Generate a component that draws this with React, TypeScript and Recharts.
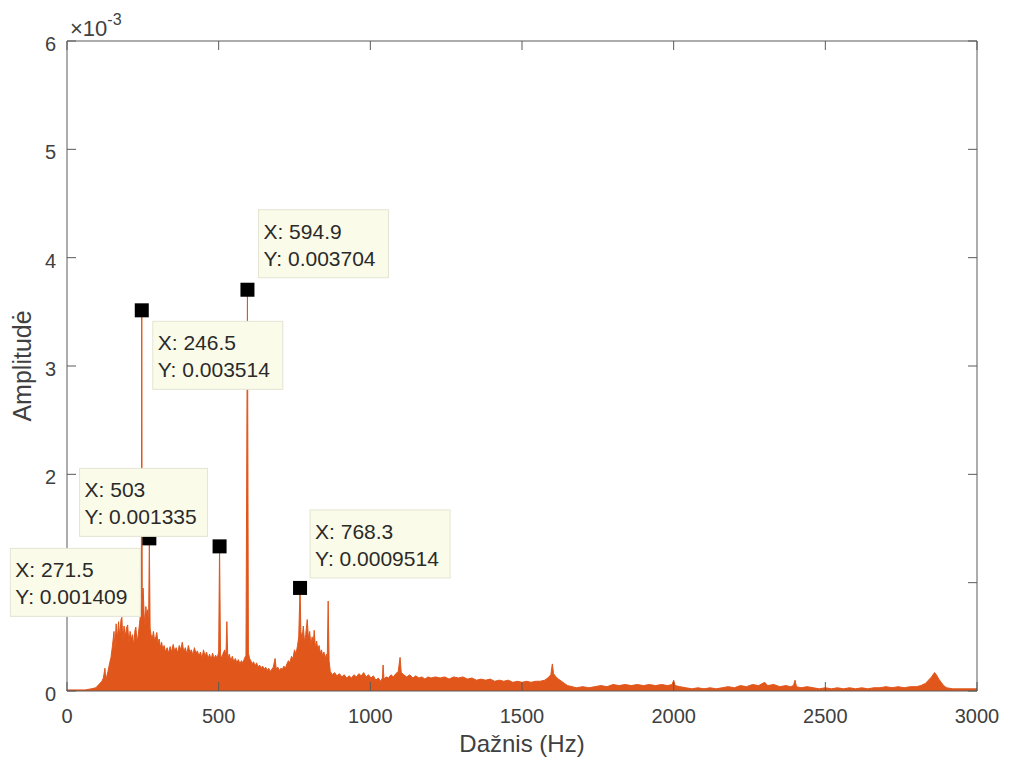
import React from 'react';
import { ComposedChart, Area, Scatter, XAxis, YAxis, Label } from 'recharts';

// Spectrum (frequency in Hz, amplitude in units of 1e-3)
const freqHz = [
  0, 20, 40, 60, 80, 95, 105, 115, 120, 125, 128, 135, 140, 145, 150, 155, 158, 162, 166, 170,
  174, 178, 181, 184, 188, 192, 196, 200, 204, 208, 212, 216, 220, 224, 227, 231, 235, 239, 242, 245,
  246.5, 248, 251, 254, 257, 260, 263, 266, 269, 271.5, 274, 277, 281, 285, 289, 293, 296, 300, 304, 308,
  312, 316, 320, 325, 330, 335, 340, 345, 350, 355, 360, 365, 370, 375, 380, 385, 390, 395, 400, 405,
  410, 415, 420, 425, 430, 435, 440, 445, 450, 455, 460, 465, 470, 475, 480, 485, 490, 495, 500, 503,
  506, 510, 515, 520, 524, 527, 530, 535, 540, 545, 550, 555, 560, 565, 570, 575, 580, 585, 590, 594.9,
  598, 602, 606, 610, 615, 620, 625, 630, 635, 640, 645, 650, 655, 660, 665, 670, 675, 680, 686, 690,
  695, 700, 705, 710, 715, 720, 725, 730, 735, 740, 745, 750, 755, 760, 764, 768.3, 771, 775, 779, 783,
  787, 792, 796, 800, 804, 808, 812, 815, 819, 823, 827, 831, 835, 839, 843, 847, 851, 855, 858, 861,
  864, 868, 875, 882, 890, 898, 906, 914, 922, 930, 938, 946, 954, 962, 970, 978, 986, 994, 1002, 1010,
  1018, 1026, 1034, 1040, 1042, 1045, 1052, 1060, 1068, 1076, 1084, 1092, 1098, 1102, 1110, 1120, 1130, 1140, 1150, 1160,
  1170, 1180, 1190, 1200, 1215, 1230, 1245, 1260, 1275, 1290, 1305, 1320, 1335, 1350, 1365, 1380, 1395, 1410, 1425, 1440,
  1455, 1470, 1485, 1500, 1515, 1530, 1545, 1560, 1575, 1585, 1595, 1600, 1604, 1612, 1620, 1630, 1640, 1650, 1665, 1680,
  1700, 1720, 1740, 1760, 1780, 1800, 1820, 1840, 1860, 1880, 1900, 1920, 1940, 1960, 1980, 1995, 2000, 2005, 2020, 2040,
  2060, 2080, 2100, 2120, 2140, 2160, 2180, 2200, 2220, 2240, 2260, 2280, 2300, 2310, 2330, 2350, 2370, 2385, 2395, 2400,
  2405, 2420, 2440, 2460, 2480, 2500, 2520, 2540, 2560, 2580, 2600, 2620, 2640, 2660, 2680, 2700, 2720, 2740, 2760, 2780,
  2800, 2815, 2830, 2840, 2850, 2860, 2866, 2874, 2882, 2890, 2900, 2920, 2940, 2960, 2980, 3000,
];
const ampMilli = [
  0.01, 0.01, 0.01, 0.01, 0.02, 0.03, 0.06, 0.09, 0.12, 0.21, 0.1, 0.18, 0.25, 0.31, 0.42, 0.55, 0.38, 0.62, 0.48, 0.64,
  0.5, 0.66, 0.68, 0.45, 0.6, 0.5, 0.58, 0.61, 0.44, 0.55, 0.48, 0.52, 0.42, 0.56, 0.59, 0.45, 0.52, 0.62, 0.7, 0.85,
  3.514, 0.87, 0.95, 0.72, 0.6, 0.78, 0.68, 0.75, 0.6, 1.409, 0.58, 0.52, 0.48, 0.55, 0.46, 0.5, 0.54, 0.44, 0.48, 0.4,
  0.45, 0.38, 0.42, 0.36, 0.4, 0.35, 0.41, 0.36, 0.43, 0.37, 0.4, 0.35, 0.42, 0.38, 0.45, 0.36, 0.4, 0.34, 0.42, 0.36,
  0.38, 0.33, 0.4, 0.35, 0.37, 0.32, 0.36, 0.3, 0.38, 0.32, 0.36, 0.3, 0.34, 0.29, 0.35, 0.3, 0.33, 0.3, 0.36, 1.335,
  0.34, 0.3, 0.35, 0.38, 0.32, 0.64, 0.3, 0.34, 0.28, 0.32, 0.27, 0.3, 0.26, 0.29, 0.25, 0.28, 0.26, 0.3, 0.33, 3.704,
  0.35, 0.3, 0.28, 0.25, 0.27, 0.23, 0.26, 0.22, 0.24, 0.21, 0.23, 0.2, 0.22, 0.19, 0.21, 0.18, 0.2, 0.22, 0.3, 0.2,
  0.22, 0.19, 0.21, 0.2, 0.23, 0.21, 0.25, 0.28, 0.26, 0.32, 0.3, 0.38, 0.34, 0.42, 0.5, 0.9514, 0.55, 0.48, 0.6, 0.45,
  0.52, 0.66, 0.48, 0.55, 0.42, 0.5, 0.44, 0.56, 0.4, 0.46, 0.38, 0.42, 0.35, 0.38, 0.32, 0.36, 0.3, 0.34, 0.3, 0.83,
  0.28, 0.18, 0.15, 0.17, 0.14, 0.16, 0.13, 0.15, 0.12, 0.14, 0.12, 0.15, 0.13, 0.16, 0.14, 0.17, 0.13, 0.15, 0.12, 0.14,
  0.1, 0.12, 0.09, 0.12, 0.24, 0.11, 0.13, 0.12, 0.15, 0.13, 0.16, 0.18, 0.31, 0.17, 0.15, 0.13, 0.15, 0.12, 0.14, 0.12,
  0.13, 0.11, 0.13, 0.12, 0.13, 0.12, 0.13, 0.11, 0.13, 0.12, 0.13, 0.11, 0.12, 0.1, 0.11, 0.1, 0.11, 0.09, 0.1, 0.09,
  0.1, 0.08, 0.09, 0.08, 0.09, 0.08, 0.09, 0.09, 0.1, 0.12, 0.15, 0.25, 0.16, 0.13, 0.11, 0.09, 0.07, 0.05, 0.04, 0.03,
  0.04, 0.03, 0.04, 0.05, 0.04, 0.06, 0.05, 0.06, 0.05, 0.06, 0.05, 0.06, 0.05, 0.06, 0.05, 0.06, 0.1, 0.05, 0.04, 0.03,
  0.02, 0.03, 0.02, 0.03, 0.02, 0.03, 0.04, 0.03, 0.05, 0.04, 0.06, 0.05, 0.08, 0.05, 0.06, 0.04, 0.05, 0.04, 0.05, 0.1,
  0.04, 0.03, 0.04, 0.03, 0.02, 0.03, 0.02, 0.03, 0.02, 0.03, 0.02, 0.03, 0.02, 0.03, 0.03, 0.04, 0.03, 0.04, 0.03, 0.04,
  0.04, 0.05, 0.07, 0.1, 0.13, 0.17, 0.15, 0.11, 0.08, 0.05, 0.03, 0.02, 0.02, 0.02, 0.02, 0.02,
];

// Data tips
const tipFreq = [246.5, 271.5, 503, 594.9, 768.3];
const tipAmp = [0.003514, 0.001409, 0.001335, 0.003704, 0.0009514];

// Axis ticks
const xTicks = [0, 500, 1000, 1500, 2000, 2500, 3000];
const yTicks = [0, 0.001, 0.002, 0.003, 0.004, 0.005, 0.006];
const yTickLabels = ['0', '1', '2', '3', '4', '5', '6'];

// Styling for data tip boxes (offset from marker, width)
const tipBoxStyle = [
  { dx: 11, dy: 11, w: 130 },
  { dx: -139, dy: 10, w: 130 },
  { dx: -140, dy: -78, w: 128 },
  { dx: 11, dy: -80, w: 130 },
  { dx: 10, dy: -78, w: 140 },
];

const spectrum = freqHz.map((f, i) => ({ f, a: ampMilli[i] / 1000 }));
const tips = tipFreq.map((f, i) => ({ f, a: tipAmp[i], idx: i }));

const AX = '#5a5a5a';
const TXT = '#404040';
const FONT = '"Liberation Sans", Arial, sans-serif';
const ORANGE = '#E0561B';

const BottomTick = (p: any) => {
  const { x, y, payload } = p;
  return (
    <g>
      <line x1={x} y1={y} x2={x} y2={y - 9} stroke={AX} strokeWidth={1} />
      <text x={x} y={y + 32} textAnchor="middle" fill={TXT} style={{ fontSize: 20, fontFamily: FONT }}>
        {payload.value}
      </text>
    </g>
  );
};
const TopTick = (p: any) => {
  const { x, y } = p;
  return <line x1={x} y1={y} x2={x} y2={y + 9} stroke={AX} strokeWidth={1} />;
};
const LeftTick = (p: any) => {
  const { x, y, index } = p;
  return (
    <g>
      <line x1={x} y1={y} x2={x + 9} y2={y} stroke={AX} strokeWidth={1} />
      <text x={x - 11} y={y + 10} textAnchor="end" fill={TXT} style={{ fontSize: 20, fontFamily: FONT }}>
        {yTickLabels[index] ?? ''}
      </text>
    </g>
  );
};
const RightTick = (p: any) => {
  const { x, y } = p;
  return <line x1={x} y1={y} x2={x - 9} y2={y} stroke={AX} strokeWidth={1} />;
};

const TipMarker = (p: any) => (
  <rect x={p.cx - 7} y={p.cy - 7} width={14} height={14} fill="#000" />
);
const TipBox = (p: any) => {
  const d = p.payload ?? p;
  const s = tipBoxStyle[d.idx];
  const x0 = p.cx + s.dx;
  const y0 = p.cy + s.dy;
  return (
    <g>
      <rect x={x0} y={y0} width={s.w} height={68} fill="#FBFBE9" stroke="#E4E4D4" strokeWidth={1} />
      <text x={x0 + 5} y={y0 + 29} fill="#2a2a2a" style={{ fontSize: 21, fontFamily: FONT }}>{`X: ${d.f}`}</text>
      <text x={x0 + 5} y={y0 + 56} fill="#2a2a2a" style={{ fontSize: 21, fontFamily: FONT }}>{`Y: ${d.a}`}</text>
    </g>
  );
};

export default function App() {
  return (
    <ComposedChart
      width={1000}
      height={750}
      data={spectrum}
      margin={{ top: 23, right: 11, bottom: 37, left: 9 }}
      style={{ background: '#fff' }}
    >
      <XAxis
        xAxisId="b"
        dataKey="f"
        type="number"
        domain={[0, 3000]}
        ticks={xTicks}
        height={30}
        tickSize={0}
        tickMargin={0}
        tickLine={false}
        tick={BottomTick}
        axisLine={{ stroke: AX, strokeWidth: 1 }}
        interval={0}
      >
        <Label
          content={(lp: any) => {
            const vb = lp.viewBox;
            return (
              <text x={vb.x + vb.width / 2} y={vb.y + 61} textAnchor="middle" fill={TXT} style={{ fontSize: 24, fontFamily: FONT }}>
                Dažnis (Hz)
              </text>
            );
          }}
        />
      </XAxis>
      <XAxis
        xAxisId="t"
        orientation="top"
        dataKey="f"
        type="number"
        domain={[0, 3000]}
        ticks={xTicks}
        height={10}
        tickSize={0}
        tickMargin={0}
        tickLine={false}
        tick={TopTick}
        axisLine={{ stroke: AX, strokeWidth: 1 }}
        interval={0}
      >
        <Label
          content={(lp: any) => {
            const vb = lp.viewBox;
            return (
              <text x={vb.x + 3} y={vb.y + 5} fill={TXT} style={{ fontSize: 22, fontFamily: FONT }}>
                ×10
                <tspan dy={-11} style={{ fontSize: 16 }}>-3</tspan>
              </text>
            );
          }}
        />
      </XAxis>
      <YAxis
        yAxisId="l"
        dataKey="a"
        type="number"
        domain={[0, 0.006]}
        ticks={yTicks}
        width={50}
        tickSize={0}
        tickMargin={0}
        tickLine={false}
        tick={LeftTick}
        axisLine={{ stroke: AX, strokeWidth: 1 }}
        interval={0}
      >
        <Label
          content={(lp: any) => {
            const vb = lp.viewBox;
            const cx = vb.x + 14;
            const cy = vb.y + vb.height / 2;
            return (
              <text
                x={cx}
                y={cy}
                transform={`rotate(-90 ${cx} ${cy})`}
                textAnchor="middle"
                fill={TXT}
                style={{ fontSize: 25, fontFamily: FONT }}
              >
                Amplitudė
              </text>
            );
          }}
        />
      </YAxis>
      <YAxis
        yAxisId="r"
        orientation="right"
        dataKey="a"
        type="number"
        domain={[0, 0.006]}
        ticks={yTicks}
        width={20}
        tickSize={0}
        tickMargin={0}
        tickLine={false}
        tick={RightTick}
        axisLine={{ stroke: AX, strokeWidth: 1 }}
        interval={0}
      />
      <Area
        xAxisId="b"
        yAxisId="l"
        dataKey="a"
        type="linear"
        stroke={ORANGE}
        strokeWidth={1}
        fill={ORANGE}
        fillOpacity={1}
        dot={false}
        activeDot={false}
        isAnimationActive={false}
      />
      <Scatter
        xAxisId="t"
        yAxisId="r"
        data={tips}
        dataKey="a"
        shape={TipMarker}
        isAnimationActive={false}
        {...({ zIndex: 2600 } as any)}
      />
      <Scatter
        xAxisId="t"
        yAxisId="r"
        data={tips}
        dataKey="a"
        shape={TipBox}
        isAnimationActive={false}
        {...({ zIndex: 2700 } as any)}
      />
    </ComposedChart>
  );
}
